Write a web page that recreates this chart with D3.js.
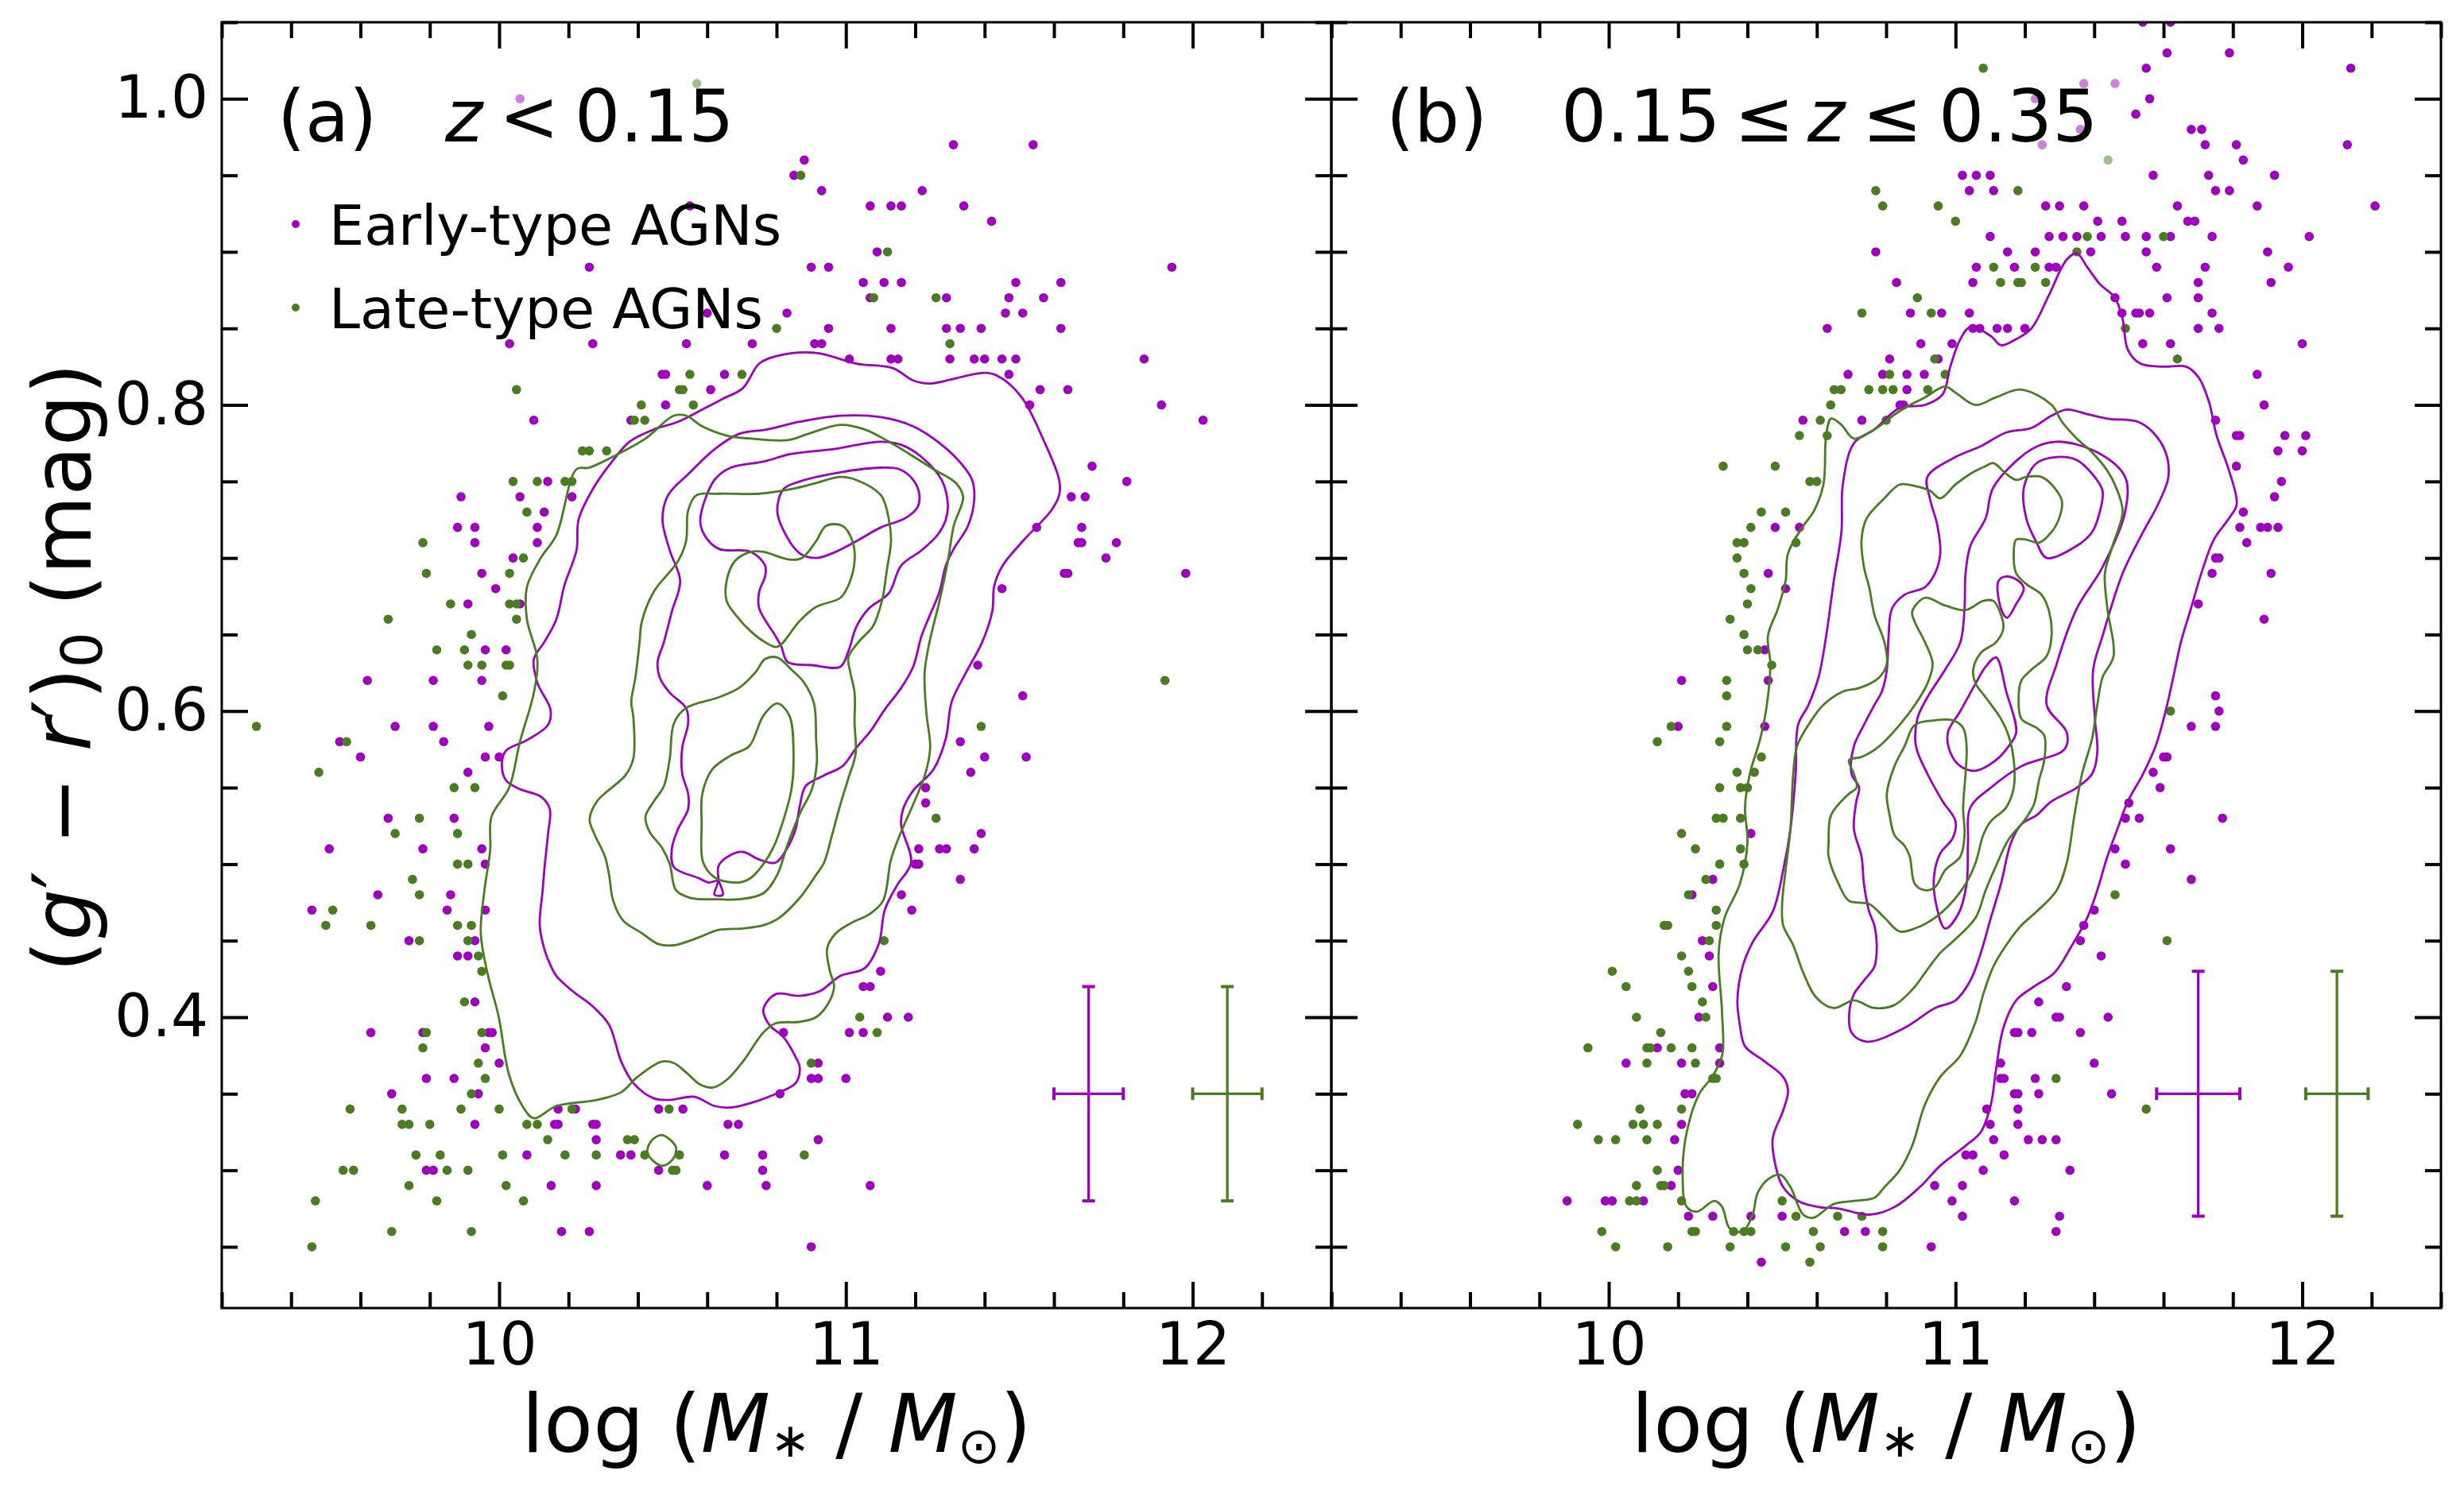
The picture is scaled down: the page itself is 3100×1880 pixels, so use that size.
<!DOCTYPE html>
<html><head><meta charset="utf-8">
<script src="https://cdn.jsdelivr.net/npm/d3@7"></script>
<style>body{margin:0;background:#fff} svg{display:block} text{font-family:"DejaVu Sans",sans-serif}</style>
</head><body>
<svg id="c" width="3100" height="1880"></svg>
<script>
// ---------------- data ----------------
const xTickValues = [10, 11, 12];
const yTickLabels = [0.4, 0.6, 0.8, 1.0];
const legendLabels = ["Early-type AGNs", "Late-type AGNs"];
const seriesColors = ["#9E00BE", "#4A7C22"];

// scatter points [logM, g-r]
const earlyA = [[10.06,1.00],[11.31,0.97],[11.54,0.97],[10.88,0.96],[10.85,0.95],[10.93,0.94],[11.22,0.94],[11.07,0.93],[11.13,0.93],[11.16,0.93],[11.34,0.93],[10.55,0.93],[11.42,0.92],[11.09,0.90],[10.26,0.89],[10.90,0.89],[10.95,0.89],[11.94,0.89],[11.05,0.88],[11.11,0.88],[11.16,0.88],[11.49,0.88],[11.62,0.88],[11.07,0.87],[11.29,0.87],[11.47,0.87],[11.57,0.87],[10.60,0.86],[10.83,0.86],[11.46,0.86],[11.51,0.86],[10.95,0.85],[11.13,0.85],[11.29,0.85],[11.33,0.85],[11.39,0.85],[11.62,0.85],[10.03,0.84],[10.27,0.84],[10.54,0.84],[10.73,0.84],[10.91,0.84],[10.93,0.84],[11.01,0.83],[11.13,0.83],[11.15,0.83],[11.30,0.83],[11.37,0.83],[11.40,0.83],[11.45,0.83],[11.49,0.83],[11.86,0.83],[10.47,0.82],[10.48,0.82],[10.65,0.82],[11.47,0.82],[10.61,0.81],[11.56,0.81],[11.64,0.81],[10.48,0.80],[11.53,0.80],[11.91,0.80],[10.10,0.79],[10.38,0.79],[12.03,0.79],[11.71,0.76],[10.14,0.75],[11.81,0.75],[9.89,0.74],[10.06,0.74],[10.21,0.74],[11.65,0.74],[11.69,0.74],[10.13,0.73],[9.88,0.72],[9.93,0.72],[10.11,0.72],[11.55,0.72],[11.68,0.72],[9.93,0.71],[10.11,0.71],[11.67,0.71],[11.68,0.71],[11.78,0.71],[10.04,0.70],[11.75,0.70],[9.95,0.69],[11.63,0.69],[11.64,0.69],[11.98,0.69],[9.99,0.68],[11.45,0.68],[9.91,0.67],[10.06,0.67],[9.96,0.64],[10.02,0.64],
[11.38,0.63],[9.62,0.62],[9.81,0.62],[9.95,0.62],[11.51,0.61],[9.70,0.59],[9.81,0.59],[9.97,0.59],[9.54,0.58],[9.84,0.58],[11.33,0.58],[9.60,0.57],[9.96,0.57],[10.00,0.57],[11.40,0.57],[11.52,0.57],[9.91,0.56],[11.36,0.56],[11.23,0.55],[11.23,0.54],[9.68,0.53],[9.87,0.53],[11.39,0.52],[9.51,0.51],[9.78,0.51],[9.95,0.51],[11.21,0.51],[11.27,0.51],[11.29,0.51],[11.37,0.51],[9.96,0.50],[11.20,0.50],[11.21,0.50],[11.33,0.49],[9.65,0.48],[9.86,0.48],[11.16,0.48],[9.46,0.47],[9.85,0.47],[9.96,0.47],[11.19,0.47],[9.74,0.45],[9.93,0.45],[9.88,0.44],[9.91,0.44],[11.10,0.43],[11.05,0.42],[11.07,0.42],[9.93,0.41],[11.12,0.40],[11.18,0.40],[9.63,0.39],[9.78,0.39],[9.97,0.39],[9.98,0.39],[10.82,0.39],[11.01,0.39],[11.05,0.39],[9.96,0.38],[10.00,0.37],[10.92,0.37],[9.79,0.36],[9.87,0.36],[10.90,0.36],[10.92,0.36],[11.00,0.36],[9.69,0.35],[9.94,0.35],[10.81,0.35],[10.17,0.34],[10.22,0.34],[10.46,0.34],[10.53,0.34],[9.93,0.33],[10.16,0.33],[10.17,0.33],[10.27,0.33],[10.28,0.33],[10.66,0.33],[10.69,0.33],[10.28,0.32],[10.92,0.32],[10.08,0.31],[10.35,0.31],[10.38,0.31],[10.65,0.31],[10.76,0.31],[9.79,0.30],[9.81,0.30],[10.46,0.30],[10.76,0.30],[10.15,0.29],[10.28,0.29],[10.60,0.29],[10.77,0.29],[11.07,0.29],[10.18,0.26],[10.26,0.26],[10.90,0.25]];

const lateA = [[10.57,1.01],[10.87,0.95],[11.12,0.90],[11.08,0.87],[11.26,0.87],[10.80,0.85],[11.30,0.84],[10.55,0.82],[10.70,0.82],[10.05,0.81],[10.52,0.81],[10.53,0.81],[10.41,0.80],[10.56,0.80],[10.39,0.79],[10.42,0.79],[10.24,0.77],[10.26,0.77],[10.31,0.77],[10.04,0.75],[10.11,0.75],[10.19,0.75],[10.21,0.75],[10.08,0.73],[9.78,0.71],[10.07,0.70],[9.79,0.69],[10.03,0.69],[9.86,0.67],[10.03,0.67],[10.05,0.67],[9.68,0.66],[10.05,0.66],[9.92,0.65],[9.82,0.64],[9.90,0.64],
[9.91,0.63],[9.95,0.63],[10.02,0.63],[10.03,0.63],[11.92,0.62],[10.01,0.61],[9.30,0.59],[11.39,0.59],[9.56,0.58],[9.48,0.56],[9.87,0.55],[9.93,0.55],[9.77,0.53],[11.26,0.53],[9.70,0.52],[9.88,0.52],[9.88,0.50],[9.91,0.50],[9.75,0.49],[9.77,0.48],[9.52,0.47],[9.50,0.46],[9.63,0.46],[9.88,0.46],[9.92,0.46],[9.77,0.45],[9.91,0.45],[11.11,0.45],[9.94,0.44],[9.95,0.43],[9.90,0.41],[11.04,0.40],[9.79,0.39],[9.95,0.39],[11.09,0.39],[9.78,0.38],[9.94,0.37],[10.90,0.37],[9.96,0.36],[9.92,0.35],[9.57,0.34],[9.72,0.34],[9.89,0.34],[10.00,0.34],[10.21,0.34],[10.49,0.34],[9.72,0.33],[9.74,0.33],[9.80,0.33],[10.08,0.33],[10.11,0.33],[10.14,0.32],[10.37,0.32],[10.39,0.32],[9.76,0.31],[9.83,0.31],[10.01,0.31],[10.19,0.31],[10.28,0.31],[10.42,0.31],[10.52,0.31],[10.88,0.31],[9.55,0.30],[9.58,0.30],[9.85,0.30],[9.91,0.30],[10.50,0.30],[10.51,0.30],[9.74,0.29],[10.02,0.29],[9.47,0.28],[9.82,0.28],[10.07,0.28],[9.69,0.26],[9.92,0.26],[9.46,0.25]];

const earlyB = [[11.54,1.05],[11.62,1.05],[11.61,1.03],[11.79,1.03],[11.55,1.02],[12.14,1.02],[11.37,1.01],[11.46,1.01],[11.23,1.00],[11.56,1.00],[11.52,0.99],[11.68,0.98],[11.71,0.98],[11.36,0.98],[11.25,0.97],[11.72,0.97],[11.81,0.97],[12.13,0.97],[11.83,0.96],[11.02,0.95],[11.06,0.95],[11.10,0.95],[11.57,0.95],[11.73,0.95],[11.92,0.95],[11.04,0.94],[11.11,0.94],[11.75,0.94],[11.79,0.94],[11.26,0.93],[11.30,0.93],[11.37,0.93],[11.64,0.93],[11.87,0.93],[12.21,0.93],[11.41,0.92],[11.48,0.92],[11.67,0.92],[11.69,0.92],[11.10,0.91],[11.27,0.91],[11.31,0.91],[11.35,0.91],[11.42,0.91],[11.49,0.91],[11.55,0.91],[11.62,0.91],[11.74,0.91],[12.02,0.91],[10.77,0.90],[11.15,0.90],[11.23,0.90],[11.39,0.90],[11.55,0.90],[11.90,0.90],[11.06,0.89],[11.17,0.89],[11.27,0.89],[11.29,0.89],[11.58,0.89],[11.72,0.89],[11.96,0.89],[10.83,0.88],[11.05,0.88],[11.70,0.88],[11.91,0.88],[11.46,0.87],[11.61,0.87],[11.70,0.87],[10.87,0.86],[10.96,0.86],[11.04,0.86],[11.48,0.86],[11.52,0.86],[11.53,0.86],[11.56,0.86],[11.74,0.86],[10.63,0.85],[11.05,0.85],[11.07,0.85],[11.12,0.85],[11.15,0.85],[11.20,0.85],[11.70,0.85],[11.76,0.85],[10.90,0.84],[10.99,0.84],[11.54,0.84],[11.62,0.84],[12.00,0.84],[10.81,0.83],[10.95,0.83],[10.69,0.82],[10.79,0.82],[10.86,0.82],[10.91,0.82],[11.87,0.82],[10.86,0.81],[10.84,0.80],[10.85,0.80],[11.89,0.80],[10.56,0.79],[10.73,0.79],[11.75,0.79],[11.81,0.78],[11.82,0.78],[11.95,0.78],[12.01,0.78],[11.93,0.77],[12.00,0.77],[11.81,0.76],[11.94,0.75],[11.92,0.74],[11.83,0.73],[10.48,0.72],[10.55,0.72],[11.82,0.72],[11.88,0.72],[11.90,0.72],[11.93,0.72],[11.84,0.71],[11.75,0.70],[11.76,0.70],[10.46,0.69],[11.74,0.69],[11.91,0.69],[10.51,0.68],[11.70,0.67],[11.89,0.66],[10.45,0.64],
[10.21,0.62],[10.46,0.62],[11.75,0.61],[11.76,0.60],[10.20,0.59],[10.45,0.59],[11.68,0.59],[11.75,0.59],[11.60,0.57],[11.61,0.57],[11.57,0.56],[11.59,0.55],[11.50,0.54],[11.49,0.53],[11.53,0.53],[11.77,0.53],[10.41,0.52],[11.46,0.51],[11.62,0.51],[11.49,0.50],[10.30,0.49],[11.68,0.49],[10.24,0.48],[11.40,0.47],[11.37,0.46],[10.27,0.45],[11.36,0.45],[10.29,0.44],[11.42,0.44],[10.30,0.42],[11.32,0.42],[11.24,0.41],[10.26,0.40],[11.29,0.40],[11.30,0.40],[11.44,0.40],[11.17,0.39],[11.18,0.39],[11.22,0.39],[11.36,0.39],[10.14,0.38],[10.32,0.38],[10.05,0.37],[10.21,0.37],[10.32,0.37],[11.13,0.37],[11.40,0.37],[11.13,0.36],[11.14,0.36],[11.23,0.36],[10.22,0.35],[10.24,0.35],[11.17,0.35],[11.18,0.35],[11.24,0.35],[11.45,0.35],[11.09,0.34],[11.18,0.34],[10.21,0.33],[11.10,0.33],[11.18,0.33],[10.19,0.32],[11.11,0.32],[11.21,0.32],[11.25,0.32],[11.29,0.32],[11.03,0.31],[11.05,0.31],[11.14,0.31],[10.20,0.30],[11.08,0.30],[11.33,0.30],[10.18,0.29],[10.94,0.29],[11.02,0.29],[9.88,0.28],[9.99,0.28],[10.01,0.28],[10.10,0.28],[10.99,0.28],[11.17,0.28],[10.23,0.27],[10.30,0.27],[10.41,0.27],[10.50,0.27],[11.02,0.27],[11.30,0.27],[10.68,0.26],[10.74,0.26],[11.29,0.26],[10.93,0.25],[10.44,0.24]];

const lateB = [[11.08,1.02],[11.44,0.96],[10.77,0.94],[11.18,0.94],[10.79,0.93],[10.95,0.93],[11.00,0.92],[11.38,0.91],[11.60,0.91],[11.35,0.90],[11.11,0.89],[11.23,0.89],[11.13,0.88],[11.18,0.88],[11.19,0.88],[11.26,0.88],[10.89,0.87],[10.73,0.86],[10.93,0.86],[11.49,0.85],[10.94,0.83],[11.64,0.83],[10.81,0.82],[10.97,0.82],[10.65,0.81],[10.67,0.81],[10.75,0.81],[10.79,0.81],[10.82,0.81],[10.92,0.81],[10.64,0.80],[10.61,0.79],[10.80,0.79],[10.55,0.78],[10.63,0.78],[10.33,0.76],[10.48,0.76],[10.58,0.75],[10.60,0.75],[10.44,0.73],[10.51,0.73],[10.41,0.72],[10.37,0.71],[10.39,0.71],[10.54,0.71],[10.37,0.70],[10.39,0.69],[10.41,0.68],[10.40,0.67],[10.35,0.66],[10.39,0.65],[10.40,0.64],[10.43,0.64],
[10.47,0.63],[10.34,0.62],[10.34,0.61],[11.62,0.60],[10.18,0.59],[10.34,0.59],[10.14,0.58],[10.32,0.58],[10.44,0.57],[10.37,0.56],[10.42,0.56],[10.32,0.55],[10.38,0.55],[10.40,0.55],[10.31,0.53],[10.33,0.53],[10.38,0.53],[10.21,0.52],[10.25,0.51],[10.38,0.51],[10.32,0.50],[10.39,0.50],[10.28,0.49],[10.23,0.48],[11.46,0.48],[10.31,0.47],[10.16,0.46],[10.17,0.46],[10.31,0.46],[10.29,0.45],[11.61,0.45],[10.21,0.44],[10.01,0.43],[10.23,0.43],[10.05,0.42],[10.24,0.42],[10.27,0.41],[10.08,0.40],[10.28,0.40],[10.15,0.39],[9.94,0.38],[10.11,0.38],[10.12,0.38],[10.18,0.38],[10.24,0.38],[10.11,0.37],[10.25,0.37],[10.30,0.36],[10.31,0.36],[11.29,0.36],[10.09,0.34],[10.21,0.34],[11.55,0.34],[9.91,0.33],[10.07,0.33],[10.10,0.33],[10.14,0.33],[9.97,0.32],[10.02,0.32],[10.11,0.32],[10.14,0.30],[10.08,0.29],[10.15,0.29],[10.16,0.29],[10.06,0.28],[10.08,0.28],[10.21,0.28],[10.50,0.28],[10.54,0.27],[10.66,0.27],[10.73,0.27],[9.98,0.26],[10.24,0.26],[10.25,0.26],[10.36,0.26],[10.39,0.26],[10.41,0.26],[10.59,0.26],[10.79,0.26],[10.02,0.25],[10.17,0.25],[10.35,0.25],[10.51,0.25],[10.61,0.25],[10.79,0.25],[10.58,0.24]];

// density contours (closed polylines in data units)
const contoursEarlyA = [
 [[10.750,0.827],[10.802,0.832],[10.914,0.834],[11.030,0.827],[11.136,0.824],[11.194,0.816],[11.241,0.814],[11.405,0.821],[11.452,0.817],[11.510,0.804],[11.568,0.778],[11.615,0.751],[11.615,0.741],[11.592,0.731],[11.510,0.711],[11.452,0.695],[11.428,0.682],[11.422,0.665],[11.393,0.645],[11.346,0.625],[11.305,0.606],[11.288,0.582],[11.253,0.562],[11.194,0.548],[11.165,0.536],[11.159,0.526],[11.188,0.501],[11.147,0.486],[11.112,0.470],[11.095,0.448],[11.054,0.432],[10.984,0.427],[10.925,0.417],[10.867,0.414],[10.797,0.415],[10.762,0.405],[10.779,0.395],[10.820,0.387],[10.855,0.374],[10.867,0.367],[10.855,0.357],[10.808,0.351],[10.726,0.344],[10.668,0.341],[10.621,0.342],[10.563,0.348],[10.492,0.346],[10.446,0.347],[10.387,0.357],[10.352,0.371],[10.317,0.395],[10.270,0.407],[10.212,0.417],[10.165,0.427],[10.152,0.432],[10.131,0.444],[10.117,0.460],[10.125,0.482],[10.131,0.498],[10.141,0.520],[10.146,0.536],[10.121,0.544],[10.060,0.549],[10.019,0.555],[10.008,0.566],[10.019,0.574],[10.080,0.581],[10.141,0.591],[10.148,0.601],[10.111,0.618],[10.100,0.634],[10.130,0.645],[10.165,0.660],[10.188,0.682],[10.223,0.705],[10.229,0.725],[10.270,0.745],[10.329,0.764],[10.376,0.776],[10.446,0.784],[10.516,0.789],[10.586,0.797],[10.645,0.804],[10.703,0.811]],
 [[10.471,0.725],[10.487,0.741],[10.551,0.756],[10.621,0.771],[10.691,0.781],[10.773,0.784],[10.867,0.789],[10.984,0.793],[11.101,0.792],[11.194,0.786],[11.276,0.774],[11.335,0.761],[11.364,0.751],[11.370,0.738],[11.352,0.721],[11.311,0.706],[11.288,0.695],[11.270,0.678],[11.241,0.662],[11.218,0.649],[11.194,0.629],[11.159,0.615],[11.112,0.601],[11.071,0.587],[11.030,0.576],[10.990,0.564],[10.937,0.558],[10.884,0.551],[10.867,0.538],[10.855,0.523],[10.832,0.511],[10.797,0.501],[10.750,0.503],[10.703,0.508],[10.668,0.506],[10.633,0.499],[10.633,0.490],[10.645,0.480],[10.621,0.480],[10.630,0.489],[10.604,0.488],[10.574,0.491],[10.504,0.498],[10.498,0.510],[10.516,0.523],[10.545,0.536],[10.545,0.546],[10.528,0.559],[10.528,0.576],[10.545,0.592],[10.539,0.602],[10.492,0.612],[10.463,0.622],[10.457,0.632],[10.475,0.645],[10.498,0.665],[10.522,0.685],[10.492,0.705]],
 [[10.580,0.725],[10.621,0.751],[10.668,0.759],[10.762,0.763],[10.843,0.768],[10.960,0.771],[11.101,0.776],[11.159,0.774],[11.218,0.766],[11.276,0.751],[11.294,0.735],[11.288,0.725],[11.264,0.715],[11.218,0.705],[11.159,0.695],[11.124,0.677],[11.066,0.667],[11.030,0.655],[11.007,0.639],[10.984,0.629],[10.902,0.630],[10.832,0.632],[10.814,0.642],[10.797,0.649],[10.750,0.667],[10.750,0.678],[10.767,0.688],[10.767,0.695],[10.726,0.704],[10.633,0.706],[10.592,0.715]],
 [[10.802,0.731],[10.820,0.745],[10.867,0.750],[10.984,0.756],[11.101,0.759],[11.154,0.758],[11.194,0.751],[11.212,0.741],[11.206,0.733],[11.171,0.726],[11.101,0.720],[11.030,0.711],[10.960,0.703],[10.914,0.700],[10.867,0.703],[10.820,0.718]]
];
const contoursLateA = [
 [[10.165,0.715],[10.223,0.758],[10.259,0.759],[10.352,0.769],[10.422,0.778],[10.504,0.793],[10.539,0.793],[10.586,0.786],[10.656,0.780],[10.726,0.778],[10.832,0.777],[10.890,0.781],[10.984,0.787],[11.054,0.784],[11.124,0.776],[11.183,0.768],[11.253,0.758],[11.317,0.749],[11.338,0.740],[11.311,0.721],[11.294,0.698],[11.270,0.672],[11.241,0.645],[11.227,0.625],[11.232,0.599],[11.243,0.576],[11.229,0.559],[11.194,0.539],[11.159,0.521],[11.130,0.503],[11.107,0.476],[11.066,0.467],[11.019,0.462],[10.972,0.455],[10.946,0.445],[10.954,0.430],[10.966,0.420],[10.949,0.409],[10.914,0.400],[10.867,0.397],[10.797,0.396],[10.762,0.390],[10.703,0.371],[10.656,0.359],[10.615,0.354],[10.580,0.356],[10.539,0.364],[10.504,0.370],[10.469,0.371],[10.399,0.361],[10.352,0.351],[10.282,0.346],[10.165,0.342],[10.100,0.334],[10.070,0.341],[10.029,0.362],[9.998,0.401],[9.967,0.428],[9.947,0.455],[9.957,0.482],[9.974,0.509],[9.978,0.531],[10.029,0.550],[10.060,0.580],[10.100,0.612],[10.110,0.634],[10.080,0.660],[10.080,0.681],[10.120,0.700]],
 [[10.261,0.529],[10.282,0.541],[10.364,0.558],[10.387,0.569],[10.387,0.596],[10.381,0.606],[10.393,0.622],[10.405,0.645],[10.411,0.658],[10.446,0.678],[10.516,0.698],[10.539,0.711],[10.545,0.731],[10.569,0.741],[10.633,0.742],[10.750,0.742],[10.843,0.745],[10.914,0.749],[10.984,0.753],[11.030,0.751],[11.101,0.741],[11.124,0.725],[11.130,0.711],[11.118,0.692],[11.107,0.675],[11.095,0.665],[11.077,0.655],[11.036,0.645],[11.007,0.635],[11.013,0.625],[11.025,0.612],[11.025,0.592],[11.028,0.572],[11.007,0.556],[10.984,0.539],[10.960,0.519],[10.937,0.501],[10.914,0.493],[10.867,0.478],[10.808,0.465],[10.761,0.460],[10.703,0.458],[10.633,0.457],[10.574,0.452],[10.504,0.447],[10.457,0.448],[10.411,0.455],[10.358,0.463],[10.329,0.476],[10.317,0.493],[10.305,0.505],[10.276,0.519]],
 [[10.422,0.531],[10.446,0.541],[10.475,0.551],[10.492,0.569],[10.504,0.592],[10.539,0.602],[10.633,0.609],[10.691,0.615],[10.738,0.625],[10.767,0.634],[10.802,0.635],[10.843,0.627],[10.878,0.619],[10.908,0.605],[10.914,0.582],[10.916,0.566],[10.902,0.549],[10.867,0.533],[10.832,0.513],[10.802,0.493],[10.762,0.481],[10.691,0.477],[10.633,0.477],[10.551,0.478],[10.510,0.483],[10.492,0.500],[10.469,0.511],[10.434,0.521]],
 [[10.656,0.685],[10.680,0.698],[10.726,0.704],[10.762,0.704],[10.837,0.699],[10.873,0.700],[10.914,0.711],[10.943,0.721],[10.990,0.721],[11.019,0.711],[11.025,0.698],[11.007,0.682],[10.984,0.674],[10.914,0.668],[10.867,0.659],[10.802,0.642],[10.767,0.645],[10.726,0.652],[10.685,0.662],[10.656,0.672]],
 [[10.586,0.503],[10.584,0.526],[10.586,0.546],[10.615,0.562],[10.668,0.571],[10.721,0.577],[10.762,0.597],[10.802,0.605],[10.837,0.597],[10.849,0.569],[10.843,0.549],[10.820,0.529],[10.791,0.511],[10.762,0.500],[10.726,0.491],[10.691,0.488],[10.633,0.490],[10.604,0.495]],
 [[10.469,0.323],[10.510,0.315],[10.500,0.307],[10.469,0.303],[10.428,0.311],[10.438,0.319]]
];
const contoursEarlyB = [
 [[10.675,0.748],[10.707,0.775],[10.766,0.784],[10.839,0.798],[10.912,0.800],[10.963,0.807],[10.985,0.825],[11.014,0.843],[11.043,0.851],[11.102,0.845],[11.131,0.839],[11.175,0.843],[11.219,0.850],[11.270,0.872],[11.321,0.895],[11.350,0.899],[11.380,0.890],[11.416,0.879],[11.460,0.870],[11.482,0.856],[11.497,0.836],[11.533,0.827],[11.599,0.825],[11.665,0.825],[11.701,0.818],[11.731,0.802],[11.753,0.780],[11.789,0.757],[11.811,0.735],[11.789,0.726],[11.745,0.712],[11.709,0.690],[11.679,0.667],[11.650,0.645],[11.628,0.622],[11.606,0.600],[11.577,0.577],[11.541,0.559],[11.497,0.541],[11.467,0.523],[11.438,0.505],[11.409,0.483],[11.380,0.465],[11.336,0.447],[11.285,0.429],[11.226,0.420],[11.175,0.411],[11.138,0.393],[11.117,0.366],[11.102,0.343],[11.073,0.325],[11.029,0.316],[10.956,0.303],[10.897,0.289],[10.824,0.276],[10.751,0.271],[10.663,0.275],[10.605,0.276],[10.546,0.280],[10.503,0.289],[10.481,0.303],[10.473,0.321],[10.503,0.339],[10.517,0.352],[10.503,0.361],[10.444,0.372],[10.393,0.381],[10.378,0.395],[10.371,0.411],[10.386,0.433],[10.415,0.449],[10.473,0.469],[10.503,0.496],[10.524,0.523],[10.539,0.559],[10.546,0.591],[10.576,0.604],[10.605,0.622],[10.627,0.649],[10.649,0.685],[10.671,0.717]],
 [[10.919,0.753],[10.926,0.739],[10.948,0.721],[10.956,0.703],[10.941,0.690],[10.912,0.681],[10.853,0.676],[10.817,0.667],[10.807,0.649],[10.802,0.627],[10.788,0.613],[10.766,0.604],[10.736,0.591],[10.707,0.577],[10.700,0.559],[10.722,0.550],[10.714,0.541],[10.707,0.523],[10.729,0.505],[10.736,0.487],[10.751,0.469],[10.766,0.460],[10.773,0.447],[10.766,0.433],[10.736,0.424],[10.707,0.415],[10.695,0.406],[10.700,0.390],[10.744,0.384],[10.853,0.393],[10.941,0.406],[11.000,0.411],[11.043,0.424],[11.073,0.442],[11.102,0.465],[11.131,0.487],[11.160,0.514],[11.190,0.526],[11.234,0.532],[11.277,0.541],[11.350,0.550],[11.394,0.559],[11.409,0.573],[11.402,0.595],[11.397,0.627],[11.424,0.649],[11.482,0.690],[11.541,0.717],[11.584,0.735],[11.614,0.753],[11.606,0.769],[11.570,0.782],[11.526,0.789],[11.438,0.791],[11.380,0.794],[11.321,0.797],[11.277,0.793],[11.219,0.785],[11.146,0.782],[11.073,0.773],[11.000,0.766]],
 [[11.109,0.746],[11.219,0.771],[11.292,0.776],[11.409,0.769],[11.489,0.753],[11.489,0.730],[11.424,0.694],[11.350,0.667],[11.292,0.631],[11.263,0.604],[11.321,0.586],[11.314,0.575],[11.190,0.564],[11.102,0.550],[11.043,0.537],[11.036,0.514],[11.032,0.487],[11.007,0.467],[10.970,0.458],[10.944,0.474],[10.938,0.492],[10.956,0.507],[10.992,0.517],[11.000,0.528],[10.963,0.541],[10.919,0.559],[10.886,0.577],[10.890,0.595],[10.919,0.609],[10.970,0.627],[11.014,0.645],[11.026,0.667],[11.029,0.690],[11.043,0.708],[11.087,0.726]],
 [[11.197,0.746],[11.234,0.762],[11.292,0.766],[11.350,0.764],[11.394,0.755],[11.424,0.744],[11.416,0.730],[11.394,0.717],[11.350,0.708],[11.263,0.700],[11.234,0.710],[11.204,0.726]],
 [[11.124,0.685],[11.146,0.688],[11.182,0.685],[11.197,0.680],[11.175,0.670],[11.149,0.661],[11.131,0.667]],
 [[11.117,0.635],[11.146,0.613],[11.175,0.586],[11.153,0.577],[11.117,0.568],[11.058,0.561],[11.014,0.564],[10.985,0.573],[10.978,0.586],[11.014,0.600],[11.058,0.618],[11.087,0.629]]
];
const contoursLateB = [
 [[10.627,0.780],[10.641,0.791],[10.671,0.787],[10.707,0.778],[10.766,0.784],[10.839,0.796],[10.912,0.805],[10.970,0.812],[11.000,0.808],[11.058,0.800],[11.117,0.805],[11.190,0.810],[11.277,0.800],[11.307,0.789],[11.350,0.778],[11.394,0.769],[11.438,0.757],[11.467,0.744],[11.482,0.730],[11.453,0.708],[11.431,0.690],[11.438,0.667],[11.456,0.636],[11.424,0.622],[11.409,0.604],[11.394,0.582],[11.365,0.559],[11.343,0.532],[11.321,0.501],[11.292,0.483],[11.234,0.469],[11.190,0.460],[11.146,0.447],[11.109,0.433],[11.080,0.415],[11.058,0.397],[11.014,0.375],[10.956,0.361],[10.912,0.343],[10.875,0.316],[10.839,0.300],[10.795,0.289],[10.766,0.282],[10.707,0.280],[10.649,0.278],[10.590,0.269],[10.561,0.271],[10.524,0.289],[10.495,0.297],[10.459,0.294],[10.429,0.285],[10.415,0.271],[10.386,0.260],[10.349,0.262],[10.327,0.276],[10.305,0.280],[10.254,0.273],[10.225,0.276],[10.213,0.298],[10.225,0.325],[10.261,0.350],[10.298,0.361],[10.327,0.375],[10.327,0.402],[10.317,0.442],[10.334,0.465],[10.378,0.487],[10.400,0.514],[10.393,0.537],[10.407,0.559],[10.437,0.582],[10.456,0.604],[10.466,0.631],[10.459,0.649],[10.488,0.667],[10.510,0.685],[10.517,0.703],[10.561,0.721],[10.590,0.730],[10.619,0.748]],
 [[10.729,0.712],[10.744,0.726],[10.795,0.739],[10.839,0.748],[10.883,0.747],[10.926,0.744],[10.956,0.739],[11.000,0.748],[11.043,0.755],[11.087,0.760],[11.109,0.762],[11.146,0.755],[11.175,0.751],[11.204,0.753],[11.248,0.753],[11.285,0.746],[11.307,0.737],[11.299,0.726],[11.277,0.717],[11.241,0.710],[11.204,0.712],[11.175,0.712],[11.168,0.703],[11.175,0.690],[11.204,0.683],[11.248,0.676],[11.270,0.665],[11.277,0.649],[11.263,0.636],[11.219,0.627],[11.190,0.620],[11.182,0.609],[11.190,0.595],[11.234,0.589],[11.256,0.584],[11.256,0.568],[11.241,0.555],[11.226,0.539],[11.197,0.528],[11.153,0.516],[11.117,0.499],[11.087,0.483],[11.058,0.465],[11.000,0.451],[10.956,0.442],[10.912,0.429],[10.883,0.420],[10.824,0.408],[10.766,0.406],[10.707,0.411],[10.649,0.406],[10.598,0.413],[10.561,0.429],[10.532,0.447],[10.503,0.460],[10.500,0.474],[10.510,0.496],[10.524,0.523],[10.532,0.559],[10.543,0.577],[10.576,0.591],[10.619,0.604],[10.678,0.613],[10.722,0.615],[10.780,0.622],[10.802,0.631],[10.795,0.645],[10.766,0.663],[10.751,0.681],[10.736,0.694]],
 [[10.634,0.514],[10.641,0.532],[10.693,0.546],[10.715,0.550],[10.707,0.559],[10.693,0.568],[10.729,0.570],[10.780,0.577],[10.839,0.591],[10.883,0.604],[10.919,0.618],[10.934,0.631],[10.912,0.645],[10.883,0.658],[10.875,0.665],[10.912,0.674],[10.970,0.669],[11.029,0.666],[11.080,0.672],[11.109,0.672],[11.131,0.663],[11.138,0.654],[11.117,0.645],[11.073,0.638],[11.051,0.627],[11.058,0.618],[11.087,0.609],[11.131,0.595],[11.153,0.584],[11.168,0.568],[11.168,0.550],[11.146,0.537],[11.102,0.528],[11.080,0.519],[11.058,0.501],[11.029,0.487],[10.985,0.474],[10.941,0.465],[10.883,0.458],[10.839,0.456],[10.795,0.465],[10.751,0.474],[10.693,0.476],[10.663,0.487],[10.634,0.505]],
 [[10.810,0.532],[10.802,0.546],[10.824,0.564],[10.853,0.577],[10.883,0.591],[10.941,0.594],[10.992,0.594],[11.022,0.589],[11.032,0.577],[11.029,0.559],[11.022,0.537],[11.026,0.519],[11.014,0.505],[10.970,0.496],[10.941,0.485],[10.912,0.483],[10.883,0.487],[10.868,0.505],[10.853,0.512],[10.824,0.519]]
];

// typical uncertainties [x, y, xerr, yerr] per series
const errorBarsA = [[11.7,0.35,0.10,0.07],[12.1,0.35,0.10,0.07]];
const errorBarsB = [[11.7,0.35,0.12,0.08],[12.1,0.35,0.09,0.08]];

// ---------------- drawing ----------------
const svg = d3.select("#c");
const font = "DejaVu Sans";
const y = d3.scaleLinear().domain([0.21, 1.05]).range([1646, 28]);
const xA = d3.scaleLinear().domain([9.2, 12.4]).range([279, 1675]);
const xB = d3.scaleLinear().domain([9.2, 12.4]).range([1675, 3071]);
const minorX = d3.range(46, 63).map(i => +(i * 0.2).toFixed(1)).filter(v => !xTickValues.includes(v));
const minorY = d3.range(5, 22).map(i => +(i * 0.05).toFixed(2)).filter(v => !yTickLabels.includes(v));

function panel(id, x, early, late, cE, cL, errs, showYLabels) {
  const [L, R] = x.range();
  const [B, T] = y.range();
  const g = svg.append("g");
  svg.append("clipPath").attr("id", "clip" + id).append("rect")
    .attr("x", L).attr("y", T).attr("width", R - L).attr("height", B - T);
  const inner = g.append("g").attr("clip-path", `url(#clip${id})`);

  inner.append("g").selectAll("circle").data(early).join("circle")
    .attr("cx", d => x(d[0])).attr("cy", d => y(d[1])).attr("r", 5.8).attr("fill", seriesColors[0]);
  inner.append("g").selectAll("circle").data(late).join("circle")
    .attr("cx", d => x(d[0])).attr("cy", d => y(d[1])).attr("r", 5.8).attr("fill", seriesColors[1]);

  const line = d3.line().x(d => x(d[0])).y(d => y(d[1])).curve(d3.curveCatmullRomClosed.alpha(0.5));
  inner.append("g").selectAll("path").data(cE).join("path")
    .attr("d", line).attr("fill", "none").attr("stroke", seriesColors[0]).attr("stroke-width", 2.8);
  inner.append("g").selectAll("path").data(cL).join("path")
    .attr("d", line).attr("fill", "none").attr("stroke", seriesColors[1]).attr("stroke-width", 2.8);

  // error bars
  errs.forEach((e, i) => {
    const eg = inner.append("g").attr("stroke", seriesColors[i]).attr("stroke-width", 3.3).attr("fill", "none");
    const cx = x(e[0]), cy = y(e[1]);
    const x0 = x(e[0] - e[2]), x1 = x(e[0] + e[2]);
    const y0 = y(e[1] - e[3]), y1 = y(e[1] + e[3]);
    eg.append("line").attr("x1", x0).attr("x2", x1).attr("y1", cy).attr("y2", cy);
    eg.append("line").attr("x1", cx).attr("x2", cx).attr("y1", y0).attr("y2", y1);
    [[x0, cy, 0], [x1, cy, 0], [cx, y0, 1], [cx, y1, 1]].forEach(c => {
      if (c[2] === 0) eg.append("line").attr("x1", c[0]).attr("x2", c[0]).attr("y1", c[1] - 8).attr("y2", c[1] + 8).attr("stroke-width", 4);
      else eg.append("line").attr("x1", c[0] - 8).attr("x2", c[0] + 8).attr("y1", c[1]).attr("y2", c[1]).attr("stroke-width", 4);
    });
  });

  // axes (inward ticks, all four sides)
  const style = sel => {
    sel.select(".domain").remove();
    sel.selectAll(".tick line").attr("stroke", "#000").attr("stroke-width", 4);
    sel.selectAll("text").attr("font-family", font).attr("font-size", 74).attr("fill", "#000");
  };
  g.append("g").attr("transform", `translate(0,${B})`)
    .call(d3.axisBottom(x).tickValues(xTickValues).tickSize(-33).tickPadding(18).tickFormat(d3.format("d"))).call(style);
  g.append("g").attr("transform", `translate(0,${B})`)
    .call(d3.axisBottom(x).tickValues(minorX).tickSize(-20).tickFormat("")).call(style);
  g.append("g").attr("transform", `translate(0,${T})`)
    .call(d3.axisTop(x).tickValues(xTickValues).tickSize(-33).tickFormat("")).call(style);
  g.append("g").attr("transform", `translate(0,${T})`)
    .call(d3.axisTop(x).tickValues(minorX).tickSize(-20).tickFormat("")).call(style);
  g.append("g").attr("transform", `translate(${L},0)`)
    .call(d3.axisLeft(y).tickValues(yTickLabels).tickSize(-33).tickPadding(17)
      .tickFormat(showYLabels ? d3.format(".1f") : "")).call(style);
  g.append("g").attr("transform", `translate(${L},0)`)
    .call(d3.axisLeft(y).tickValues(minorY).tickSize(-20).tickFormat("")).call(style);
  g.append("g").attr("transform", `translate(${R},0)`)
    .call(d3.axisRight(y).tickValues(yTickLabels).tickSize(-33).tickFormat("")).call(style);
  g.append("g").attr("transform", `translate(${R},0)`)
    .call(d3.axisRight(y).tickValues(minorY).tickSize(-20).tickFormat("")).call(style);

  g.append("rect").attr("x", L).attr("y", T).attr("width", R - L).attr("height", B - T)
    .attr("fill", "none").attr("stroke", "#000").attr("stroke-width", 3);

  // x label
  const xl = g.append("text").attr("x", (L + R) / 2).attr("y", 1827).attr("text-anchor", "middle")
    .attr("font-family", font).attr("font-size", 101).attr("fill", "#000");
  xl.append("tspan").text("log (");
  xl.append("tspan").attr("font-style", "italic").text("M");
  xl.append("tspan").attr("font-size", 60).attr("dy", 6).text("\u2217");
  xl.append("tspan").attr("dy", -6).text(" / ");
  xl.append("tspan").attr("font-style", "italic").text("M");
  xl.append("tspan").attr("font-size", 64).attr("dy", 14).text("\u2299");
  xl.append("tspan").attr("dy", -14).text(")");
  return g;
}

const gA = panel("A", xA, earlyA, lateA, contoursEarlyA, contoursLateA, errorBarsA, true);
const gB = panel("B", xB, earlyB, lateB, contoursEarlyB, contoursLateB, errorBarsB, false);

// title boxes (semi-transparent white) and titles
function title(g, box, parts) {
  g.append("rect").attr("x", box[0]).attr("y", box[1]).attr("width", box[2] - box[0]).attr("height", box[3] - box[1])
    .attr("fill", "#fff").attr("fill-opacity", 0.5);
  const t = g.append("text").attr("y", 178).attr("font-family", font).attr("font-size", 90).attr("fill", "#000");
  parts.forEach(p => t.append("tspan").attr("x", p[1]).attr("font-style", p[2] ? "italic" : "normal").text(p[0]));
}
title(gA, [336, 92, 945, 208], [["(a)", 349, false], ["z", 560, true], ["<", 628, false], ["0.15", 723, false]]);
title(gB, [1731, 92, 2667, 208], [["(b)", 1744, false], ["0.15", 1964, false], ["\u2264", 2182, false], ["z", 2274, true], ["\u2264", 2343, false], ["0.35", 2439, false]]);

// legend
legendLabels.forEach((lab, i) => {
  gA.append("circle").attr("cx", 372).attr("cy", 282 + i * 105).attr("r", 5).attr("fill", seriesColors[i]);
  gA.append("text").attr("x", 414).attr("y", 308 + i * 105).attr("font-family", font).attr("font-size", 70)
    .attr("fill", "#000").text(lab);
});

// y label
const yl = svg.append("text").attr("transform", "translate(114,840) rotate(-90)").attr("text-anchor", "middle")
  .attr("font-family", font).attr("font-size", 102).attr("fill", "#000");
yl.append("tspan").text("(");
yl.append("tspan").attr("font-style", "italic").text("g");
yl.append("tspan").text("\u2032 \u2212 ");
yl.append("tspan").attr("font-style", "italic").text("r");
yl.append("tspan").text("\u2032)");
yl.append("tspan").attr("font-size", 71).attr("dy", 14).text("0");
yl.append("tspan").attr("dy", -14).text(" (mag)");
</script>
</body></html>
